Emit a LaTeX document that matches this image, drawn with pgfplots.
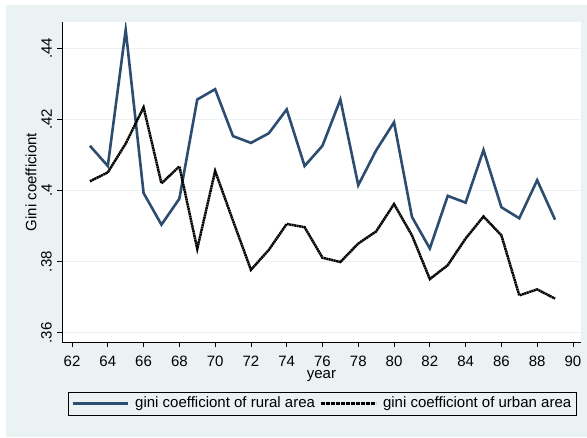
\documentclass[border=0pt]{standalone}
\usepackage{pgfplots}
\pgfplotsset{compat=1.18}
\usepackage{fontspec}
\setmainfont{Liberation Sans}
\usetikzlibrary{backgrounds,calc}
\definecolor{stbg}{RGB}{234,242,243}
\definecolor{rural}{RGB}{44,77,112}
\pgfplotstableread{
year rural urban
63 0.4126 0.4026
64 0.4069 0.4051
65 0.4452 0.4132
66 0.3993 0.4234
67 0.3904 0.4020
68 0.3977 0.4068
69 0.4256 0.3836
70 0.4285 0.4055
71 0.4153 0.3915
72 0.4134 0.3777
73 0.4161 0.3833
74 0.4228 0.3906
75 0.4069 0.3897
76 0.4126 0.3811
77 0.4256 0.3799
78 0.4015 0.3851
79 0.4113 0.3885
80 0.4192 0.3962
81 0.3926 0.3874
82 0.3837 0.3751
83 0.3985 0.3790
84 0.3966 0.3865
85 0.4114 0.3927
86 0.3953 0.3874
87 0.3922 0.3705
88 0.4029 0.3722
89 0.3918 0.3696
}\datatable
\begin{document}
\fontsize{15}{18}\selectfont
\begin{tikzpicture}[x=1pt,y=1pt]
\begin{axis}[
  scale only axis, width=519pt, height=320pt,
  xmin=61.44, xmax=90.45, ymin=0.3574, ymax=0.4474,
  axis lines*=left,
  axis line style={black, line width=0.8pt},
  axis background/.style={fill=white},
  xtick={62,64,...,90},
  ytick={0.36,0.38,0.40,0.42,0.44},
  tick align=outside,
  major tick length=5pt,
  tick style={black, line width=0.8pt},
  ymajorgrids,
  grid style={stbg, line width=0.9pt},
  /pgf/number format/assume math mode=true,
  yticklabel style={rotate=90, anchor=south, /pgf/number format/.cd, fixed, precision=2, skip 0.},
  xticklabel style={yshift=-4pt},
  ticklabel style={font=\fontsize{15}{18}\selectfont},
  label style={font=\fontsize{15}{18}\selectfont},
  xlabel={year},
  xlabel style={at={(axis description cs:0.5,0)}, anchor=north, yshift=-27.5pt, inner sep=1pt},
  ylabel={Gini coefficiont},
  ylabel style={yshift=-5.5pt},
  legend columns=2,
  legend cell align=left,
  legend style={at={(0.0116,-0.156)}, anchor=north west, draw=black, fill=none,
    font=\fontsize{15}{18}\selectfont, inner xsep=3pt, inner ysep=3pt,
    /tikz/every odd column/.append style={column sep=4pt},
    /tikz/every even column/.append style={column sep=2pt}},
  legend image code/.code={\draw[#1, line width=3pt] (0pt,0pt) -- (55pt,0pt);},
]
\coordinate (BL) at (rel axis cs:0,0);
\addplot[rural, line width=2.6pt, line join=miter] table[x=year, y=rural] {\datatable};
\addlegendentry{gini coefficiont of rural area}
\addplot[black, line width=2.5pt, dash pattern=on 2pt off 0.5pt] table[x=year, y=urban] {\datatable};
\addlegendentry{gini coefficiont of urban area}
\end{axis}
\begin{pgfonlayer}{background}
\fill[white] ($(BL)+(-62,-95)$) rectangle ($(BL)+(525,342)$);
\fill[stbg] ($(BL)+(-56,-95)$) rectangle ($(BL)+(525,337)$);
\end{pgfonlayer}
\pgfresetboundingbox
\path[use as bounding box] ($(BL)+(-62,-95)$) rectangle ($(BL)+(525,342)$);
\end{tikzpicture}
\end{document}
